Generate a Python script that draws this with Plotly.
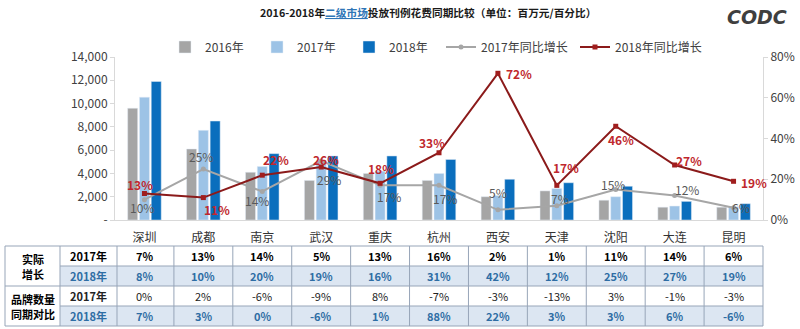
import plotly.graph_objects as go

cities = ["深圳", "成都", "南京", "武汉", "重庆", "杭州", "西安", "天津", "沈阳", "大连", "昆明"]
spend_2016 = [9600, 6100, 4100, 3400, 4000, 3400, 2000, 2500, 1700, 1100, 1100]
spend_2017 = [10550, 7700, 4600, 5000, 4200, 4000, 2100, 2700, 2000, 1200, 1150]
spend_2018 = [11900, 8500, 5700, 5500, 5500, 5200, 3500, 3200, 2900, 1600, 1400]
yoy_2017 = [10, 25, 14, 29, 17, 17, 5, 7, 15, 12, 6]
yoy_2018 = [13, 11, 22, 26, 18, 33, 72, 17, 46, 27, 19]
real_2017 = [7, 13, 14, 5, 13, 16, 2, 1, 11, 14, 6]
real_2018 = [8, 10, 20, 19, 16, 31, 42, 12, 25, 27, 19]
brand_2017 = [0, 2, -6, -9, 8, -7, -3, -13, 3, -1, -3]
brand_2018 = [7, 3, 0, -6, 1, 88, 22, 3, 3, 6, -6]
left_ticks = [0, 2000, 4000, 6000, 8000, 10000, 12000, 14000]
left_ticktext = ["-", "2,000", "4,000", "6,000", "8,000", "10,000", "12,000", "14,000"]
right_ticks = [0, 20, 40, 60, 80]
right_ticktext = ["0%", "20%", "40%", "60%", "80%"]
group_labels = [("实际", "增长"), ("品牌数量", "同期对比")]

W, H = 800, 329
FONT = "Noto Sans CJK SC"

def px(x):
    return x / W

def py(y):
    return (H - y) / H

xdom = [px(115), px(763)]
ydom = [py(220), py(57)]

# label offsets in pixels (dx right, dy up) relative to each point
off18 = [(-4, 9), (14, -12), (14, 16), (5, 8), (1, 15), (-7, 10),
         (21, 0), (9, 18), (5, -13), (14, 4), (20, -1)]
off17 = [(-2, -8), (-2, 13), (-5, -9), (8, -19), (9, -11), (6, -13),
         (0, 17), (3, 7), (-3, 5), (12, 6), (7, 0)]

fig = go.Figure()
fig.add_trace(go.Bar(x=cities, y=spend_2016, name="2016年", marker_color="#A5A5A5", legend="legend"))
fig.add_trace(go.Bar(x=cities, y=spend_2017, name="2017年", marker_color="#9DC3E6", legend="legend"))
fig.add_trace(go.Bar(x=cities, y=spend_2018, name="2018年", marker_color="#0A6EBD", legend="legend"))
fig.add_trace(go.Scatter(
    x=cities, y=yoy_2017, name="2017年同比增长", yaxis="y2", legend="legend2",
    mode="lines+markers", line=dict(color="#A6A6A6", width=2),
    marker=dict(size=5, color="#A6A6A6")))
fig.add_trace(go.Scatter(
    x=cities, y=yoy_2018, name="2018年同比增长", yaxis="y2", legend="legend2",
    mode="lines+markers", line=dict(color="#8B1A1A", width=2),
    marker=dict(size=5, color="#A01E1E", symbol="square")))

leg_common = dict(orientation="h", yanchor="middle", xanchor="left",
                  font=dict(size=12, color="#404040"), itemwidth=30, tracegroupgap=0,
                  bgcolor="rgba(0,0,0,0)", entrywidthmode="pixels")

fig.update_layout(
    width=W, height=H, margin=dict(l=0, r=0, t=0, b=0, autoexpand=False),
    paper_bgcolor="white", plot_bgcolor="white",
    font=dict(family=FONT, color="#404040", size=12),
    barmode="group", bargap=0.4, bargroupgap=0.15,
    showlegend=True,
    legend=dict(x=px(165), y=py(47), entrywidth=47, **leg_common),
    legend2=dict(x=px(441), y=py(47), entrywidth=89, **leg_common),
    xaxis=dict(domain=xdom, range=[-0.5, 10.5], showline=True, linecolor="#D9D9D9",
               linewidth=1, ticks="outside", ticklen=7, tickcolor="rgba(0,0,0,0)",
               tickfont=dict(size=12, color="#333333"),
               showgrid=False, anchor="y", automargin=False),
    yaxis=dict(domain=ydom, range=[0, 14000], tickvals=left_ticks, ticktext=left_ticktext,
               showline=True, linecolor="#D9D9D9", ticks="outside", ticklen=4,
               tickcolor="#D9D9D9", showgrid=False, zeroline=False, automargin=False,
               tickfont=dict(size=12, color="#404040")),
    yaxis2=dict(domain=ydom, range=[0, 80], overlaying="y", side="right",
                tickvals=right_ticks, ticktext=right_ticktext, showline=True,
                linecolor="#D9D9D9", ticks="outside", ticklen=4, tickcolor="#D9D9D9",
                showgrid=False, zeroline=False, anchor="x", automargin=False,
                tickfont=dict(size=12, color="#404040")),
)

ann = []
for c, v, (dx, dy) in zip(cities, yoy_2017, off17):
    ann.append(dict(x=c, y=v, xref="x", yref="y2", showarrow=False, text=f"{v}%",
                    xshift=dx, yshift=dy, xanchor="center", yanchor="middle",
                    font=dict(size=12, color="#595959", family=FONT)))
for c, v, (dx, dy) in zip(cities, yoy_2018, off18):
    ann.append(dict(x=c, y=v, xref="x", yref="y2", showarrow=False, text=f"<b>{v}%</b>",
                    xshift=dx, yshift=dy, xanchor="center", yanchor="middle",
                    font=dict(size=12, color="#C0282D", family=FONT)))

ann.append(dict(x=px(428), y=py(12), xref="paper", yref="paper", showarrow=False,
                xanchor="center", yanchor="middle",
                text="<b>2016-2018年<span style='color:#2E75B6'><u>二级市场</u></span>投放刊例花费同期比较（单位：百万元/百分比）</b>",
                font=dict(size=10.7, color="#1A1A1A", family=FONT)))
ann.append(dict(x=px(757), y=py(17), xref="paper", yref="paper", showarrow=False,
                xanchor="center", yanchor="middle",
                text="<b><i>CODC</i></b>", font=dict(size=19, color="#3F3F3F", family="DejaVu Sans")))

# table geometry
row_edges = [246, 266, 286, 306, 326]
x_left, x_grp, x_year = 5, 60, 117
n = len(cities)

def cat_edge(k):
    return xdom[0] + k / n * (xdom[1] - xdom[0])

x_right = cat_edge(n)
shapes = []
line_col = "#97A5B8"
fill_col = "#DCE6F2"
for r in (1, 3):
    shapes.append(dict(type="rect", xref="paper", yref="paper", x0=px(x_grp), x1=x_right,
                       y0=py(row_edges[r + 1]), y1=py(row_edges[r]), fillcolor=fill_col,
                       line=dict(width=0), layer="below"))
for i, yy in enumerate(row_edges):
    x0 = px(x_left) if i in (0, 2, 4) else px(x_grp)
    shapes.append(dict(type="line", xref="paper", yref="paper", x0=x0, x1=x_right,
                       y0=py(yy), y1=py(yy), line=dict(color=line_col, width=1)))
vx = [px(x_left), px(x_grp), px(x_year)] + [cat_edge(k) for k in range(1, n + 1)]
for xv in vx:
    shapes.append(dict(type="line", xref="paper", yref="paper", x0=xv, x1=xv,
                       y0=py(row_edges[-1]), y1=py(row_edges[0]), line=dict(color=line_col, width=1)))

rows = [
    (real_2017, "#000000", True, "2017年"),
    (real_2018, "#2E6DA4", True, "2018年"),
    (brand_2017, "#222222", False, "2017年"),
    (brand_2018, "#2E6DA4", True, "2018年"),
]
for r, (vals, col, bold, yl) in enumerate(rows):
    yc = py((row_edges[r] + row_edges[r + 1]) / 2)
    ann.append(dict(x=px((x_grp + x_year) / 2), y=yc, xref="paper", yref="paper", showarrow=False,
                    xanchor="center", yanchor="middle",
                    text=f"<b>{yl}</b>", font=dict(size=11, color=col, family=FONT)))
    for c, v in zip(cities, vals):
        t = f"{v}%"
        if bold:
            t = f"<b>{t}</b>"
        ann.append(dict(x=c, y=yc, xref="x", yref="paper", showarrow=False, text=t,
                        xanchor="center", yanchor="middle",
                        font=dict(size=11, color=col, family=FONT)))
for g, (l1, l2) in enumerate(group_labels):
    ymid = row_edges[2 * g + 1]
    for txt, dy in ((l1, -7.5), (l2, 7.5)):
        ann.append(dict(x=px((x_left + x_grp) / 2), y=py(ymid + dy), xref="paper", yref="paper",
                        showarrow=False, xanchor="center", yanchor="middle",
                        text=f"<b>{txt}</b>", font=dict(size=11, color="#000000", family=FONT)))

fig.update_layout(annotations=ann, shapes=shapes)
fig.write_html("out.html")
